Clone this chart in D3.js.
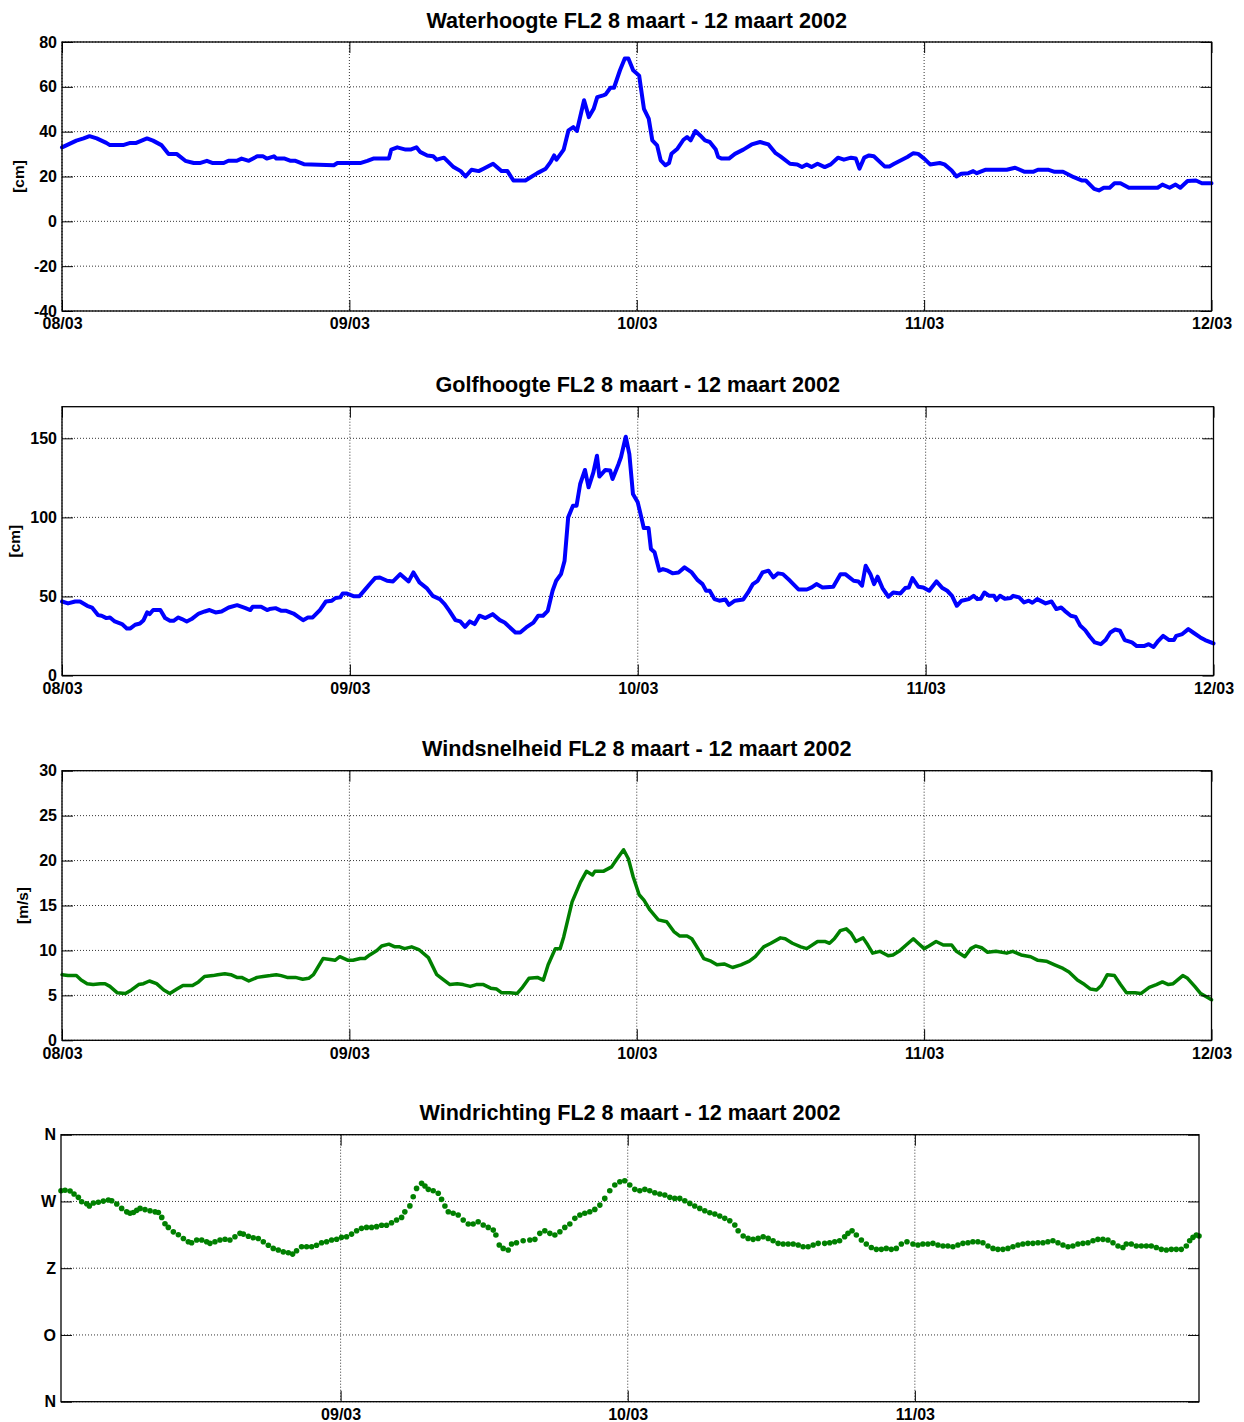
<!DOCTYPE html>
<html><head><meta charset="utf-8">
<script src="https://cdn.jsdelivr.net/npm/d3@7"></script>
<style>body{margin:0;background:#fff}</style>
</head><body><svg id="c" width="1244" height="1422"></svg>
<script>
// [hours since 08/03 00:00, value]
const waterhoogte = [[0,33],[0.4,34],[1.2,36],[1.8,37],[2.3,38],[2.9,37],[3.7,35],[4,34],[5.1,34],[5.7,35],[6.2,35],[7.1,37],[7.6,36],[8.3,34],[8.9,30],[9.6,30],[10.3,27],[11,26],[11.5,26],[12.1,27],[12.6,26],[13.5,26],[13.9,27],[14.6,27],[15,28],[15.6,27],[16.3,29],[16.8,29],[17.1,28],[17.7,29],[17.9,28],[18.6,28],[19.1,27],[19.5,27],[20.2,25.5],[22.7,25],[23,26],[24.9,26],[25.5,27],[26,28],[27.3,28],[27.5,32],[28,33],[28.7,32],[29.1,32],[29.6,33],
[29.9,31],[30.5,29.4],[31,29],[31.3,27.5],[31.9,28.4],[32.7,24.2],[33.3,22.4],[33.7,20],[34.2,23],[34.8,22.4],[35.2,23.5],[36,25.7],[36.7,22.4],[37.2,22.4],[37.7,18.2],[38.7,18.2],[39.7,21.5],[40.4,23.5],[40.8,26.4],[41.1,29.4],[41.3,27.5],[41.9,32],[42.3,40.6],[42.7,42],[43,40.3],[43.6,54],[44,46.5],[44.4,50.2],[44.7,55.4],[45.2,56.2],[45.4,56.6],[45.8,59.6],[46.1,59.6],[46.6,67.4],[47,72.6],[47.3,72.6],[47.7,67.4],[48.2,65],[48.6,50.2],[49,45.8],[49.3,36.1],[49.7,33.9],[50,27.2],[50.4,25],[50.7,26],[50.9,30.1],[51.4,32.4],[51.9,36.4],[52.2,37.6],[52.5,36.1],[52.9,40.3],[53.3,38.3],[53.7,36.1],[54.1,35.4],[54.6,32],[54.8,28.7],[55.1,28],[55.7,28],[56.2,30.1],[56.9,32],[57.6,34.3],[58.3,35.4],[59,34.3],[59.6,30.4],[60,29],[60.8,25.7],[61.4,25.4],[61.8,24.2],[62.2,25.4],[62.6,24.2],[63.1,25.7],[63.7,24.2],
[64.2,25.4],[64.8,28.4],[65.3,27.5],[65.9,28.4],[66.3,28],[66.6,23.5],[67,28.4],[67.4,29.4],[67.8,29],[68.7,24.5],[69.1,24.5],[69.5,25.7],[70.6,28.7],[71.1,30.4],[71.5,30.1],[72,28],[72.5,25.4],[72.9,25.7],[73.3,26],[73.7,25.4],[74.3,22.7],[74.7,20],[75.1,21.2],[75.7,21.5],[76.1,22.4],[76.4,21.5],[77.1,23],[78.9,23],[79.6,23.9],[80.4,22.1],[81.1,22.1],[81.5,23],[82.4,23],[82.9,22.1],[83.6,22.1],[84.5,19.7],[85.2,18.2],[85.5,18.2],[86.2,14.5],[86.6,13.8],[87,15],[87.5,15],[87.9,17],[88.4,17],[89.1,15],[91.5,15],[91.9,16.4],[92.5,15],[93,16.4],[93.4,15],[94,18],[94.7,18.2],[95.2,17],[96,17]];

const golfhoogte = [[0,46.8],[0.5,45.6],[1.1,46.8],[1.5,46.8],[2.1,44.1],[2.5,43],[3,38.2],[3.3,37.8],[3.7,36.3],[4,36.7],[4.4,34.2],[5,32.5],[5.4,29.8],[5.7,29.8],[6.1,32.1],[6.5,32.9],[6.8,35],[7.1,39.9],[7.3,38.8],[7.6,41.4],[8.2,41.4],[8.6,36.3],[9,34.6],[9.3,34.6],[9.7,36.7],[10,35.7],[10.4,34.2],[10.8,35.7],[11.4,39.2],[11.9,40.5],[12.3,41.4],[12.8,39.9],[13.3,40.5],[13.9,43],[14.6,44.5],[15.3,42.6],[15.7,41.4],[15.9,43.5],[16.6,43.5],[17.1,41.4],[17.3,42],[17.8,42.6],[18.3,40.9],[18.7,40.9],[19.3,39.2],[19.7,37.1],[20.1,35],[20.5,36.7],[20.9,36.7],[21.5,41.4],[22,46.8],[22.5,47.3],[22.8,49],[23.2,49.4],[23.4,51.9],[23.7,51.9],[24.3,50.2],[24.8,50.2],[25.3,54.6],[25.7,58.2],[26.1,61.6],[26.5,62],[27.1,59.9],[27.6,59.5],[28.2,64.1],[28.9,59.5],[29.3,65.2],[29.8,58.9],
[30.4,55.3],[30.9,50.4],[31.5,48.3],[31.9,45.2],[32.3,40.9],[32.8,35],[33.2,34.2],[33.6,30.8],[34,34.2],[34.4,32.5],[34.8,37.8],[35.3,36.3],[35.9,38.8],[36.5,35],[36.9,33.5],[37.8,27.2],[38.2,27.2],[38.7,30.4],[39.3,33.5],[39.7,37.8],[40.1,37.8],[40.5,40.9],[40.9,53.6],[41.2,59.9],[41.6,64.1],[41.9,72.6],[42.2,100],[42.6,107.4],[42.9,107.4],[43.2,121.1],[43.6,130],[43.9,119],[44.3,128.5],[44.6,139],[44.8,125.8],[45.3,130],[45.7,129.6],[45.9,124.3],[46.4,133.8],[46.6,138],[47,151],[47.3,140],[47.6,114.8],[48,109.5],[48.3,100],[48.5,93.3],[48.9,93.3],[49.1,80],[49.4,77.9],[49.8,66.3],[50.1,67.3],[50.5,66.3],[50.9,64.6],[51.4,65.2],[51.9,68.4],[52.5,65.2],[53,60.3],[53.4,57.8],[53.7,53.6],[54,53.6],[54.4,48.3],[54.8,47.3],[55.3,48.1],[55.6,44.7],[56.1,47.3],[56.8,48.1],[57.2,52.5],[57.6,57.8],[58,59.9],[58.4,65.2],[58.9,66.3],[59.3,62],[59.7,64.6],[60.1,64.1],[60.7,59.9],[61.4,54.4],[62.1,54.4],[62.5,55.7],[62.9,57.8],[63.4,55.7],
[64.3,56.1],[64.9,64.1],[65.3,64.1],[66,59.9],[66.4,59.5],[66.7,56.8],[67,69.4],[67.4,64.1],[67.7,57.8],[68,62.5],[68.4,55.3],[68.9,49.8],[69.3,52.5],[69.9,51.9],[70.3,55.3],[70.6,55.7],[70.9,61.6],[71.4,56.1],[71.8,55.7],[72.3,53.6],[72.9,59.5],[73.4,55.3],[73.8,53.6],[74.2,50.4],[74.6,44.1],[75,47.3],[75.6,48.3],[76,50.4],[76.3,48.3],[76.6,48.5],[76.9,52.5],[77.3,50.4],[77.7,50.4],[77.9,47.7],[78.2,50.4],[78.6,48.5],[79.1,49],[79.3,50.4],[79.8,49.4],[80.2,46.2],[80.6,47.3],[80.9,46],[81.3,48.3],[82,45.6],[82.5,46.8],[82.9,42],[83.3,43],[83.6,40.9],[84.1,37.8],[84.5,37.1],[84.9,31.4],[85.3,28.7],[85.7,24.5],[86.1,20.9],[86.6,19.8],[87,22.4],[87.4,27.2],[87.8,29.1],[88.2,28.3],[88.6,22.4],[89.2,20.9],[89.6,18.6],[90.2,18.6],[90.6,19.8],[91,18.1],[91.4,21.9],[91.8,25.1],[92.3,22.4],[92.7,22.4],[92.9,25.1],[93.4,26.2],[93.9,29.3],[94.3,27.2],[94.9,24.1],[95.3,22.4],[96,20.3]];

const windsnelheid = [[0,7.3],[0.5,7.2],[1.2,7.2],[1.6,6.7],[2.1,6.3],[2.6,6.2],[3.2,6.3],[3.6,6.3],[4,6],[4.6,5.3],[5.3,5.2],[5.8,5.6],[6.4,6.2],[6.8,6.3],[7.3,6.6],[7.9,6.3],[8.5,5.6],[9,5.2],[9.6,5.7],[10.1,6.1],[10.9,6.1],[11.4,6.5],[11.9,7.1],[12.6,7.2],[13,7.3],[13.6,7.4],[14.1,7.3],[14.6,7],[15,7],[15.6,6.6],[16.3,7],[16.8,7.1],[17.4,7.2],[17.9,7.3],[18.3,7.2],[18.8,7],[19.5,7],[20.1,6.8],[20.6,6.9],[21,7.3],[21.4,8.2],[21.8,9.1],[22.4,9],[22.8,8.9],[23.2,9.3],[23.9,8.9],[24.3,8.9],[24.9,9.1],[25.3,9.1],[25.7,9.5],[26.3,10],[26.7,10.5],[27.3,10.7],[27.8,10.4],[28.2,10.4],[28.6,10.2],[29.2,10.4],[29.8,10.1],
[30.6,9.2],[31.3,7.3],[31.9,6.7],[32.4,6.2],[33,6.3],[33.5,6.2],[34.1,6],[34.6,6.2],[35.2,6.2],[35.8,5.8],[36.3,5.7],[36.7,5.3],[37.4,5.3],[38,5.2],[38.4,5.8],[39,6.9],[39.7,7],[40.2,6.7],[40.6,8.4],[41.2,10.2],[41.6,10.2],[41.9,11.5],[42.6,15.4],[43.3,17.6],[43.8,18.8],[44.3,18.4],[44.5,18.8],[45.2,18.8],[45.9,19.3],[46.3,20.1],[46.9,21.2],[47.3,20.2],[47.7,18.2],[48.2,16.2],[48.6,15.6],[49.1,14.5],[49.8,13.4],[50.5,13.2],[51.1,12.1],[51.6,11.6],[52.2,11.6],[52.6,11.3],[53.2,10],[53.6,9.1],[54.2,8.8],[54.7,8.4],[55.3,8.5],[56,8.1],[56.7,8.4],[57.4,8.8],[57.9,9.3],[58.6,10.4],[59.2,10.8],[60,11.4],[60.4,11.3],[61,10.8],[61.7,10.4],[62.2,10.2],[63.1,11],[63.7,11],
[64.1,10.8],[64.5,11.3],[65,12.2],[65.5,12.4],[65.9,11.9],[66.3,11],[66.9,11.4],[67.3,10.6],[67.7,9.7],[68.3,9.9],[69,9.4],[69.4,9.5],[69.9,9.9],[70.5,10.6],[71.1,11.3],[71.5,10.8],[72,10.2],[72.4,10.5],[73,11],[73.6,10.6],[74.3,10.6],[74.7,9.9],[75.4,9.3],[75.9,10.2],[76.3,10.5],[76.8,10.3],[77.3,9.8],[78,9.9],[78.9,9.7],[79.4,9.9],[80.1,9.5],[80.9,9.3],[81.5,8.9],[82.2,8.8],[82.9,8.4],[83.6,8],[84.1,7.6],[84.8,6.7],[85.4,6.2],[85.9,5.7],[86.4,5.6],[86.8,6.1],[87.3,7.3],[87.9,7.2],[88.4,6.2],[88.9,5.3],[89.6,5.3],[90.1,5.2],[90.8,5.9],[91.4,6.2],[91.9,6.5],[92.4,6.2],[92.8,6.3],[93.6,7.2],[94,6.9],[94.6,6],[95.1,5.2],[96,4.5]];

// degrees (0 = N, 90 = O, 180 = Z, 270 = W)
const windrichting = [[0.63,284.5],[0.97,285],[1.39,284],[1.72,280],[2.08,275.5],[2.36,269.6],[2.78,267],[3.0,264],[3.34,268],[3.75,269],[4.17,270.5],[4.59,272],[4.87,271],[5.29,266.5],[5.7,260.6],[6.12,256],[6.4,254],[6.68,255],[6.96,258],[7.24,260.6],[7.65,259],[8.07,257.5],[8.49,256],[8.77,255],[9.05,248.5],[9.32,240],[9.6,235],[10.02,229],[10.44,225],[10.86,220],[11.27,215.7],[11.55,214.4],[11.97,218],[12.39,218],[12.8,215.7],[13.08,213.5],[13.5,215.7],[13.92,218],[14.34,219],[14.75,218],[15.17,222.5],[15.59,227],[15.87,226],[16.29,223],[16.7,221],[17.12,220],[17.54,215.7],[17.96,211],[18.37,206.7],[18.79,204.5],[19.21,202],[19.63,200.9],[19.99,199],[20.32,203.6],[20.74,209],[21.16,209],[21.58,209],[21.99,211],[22.41,214.4],[22.83,215.7],[23.25,218],[23.67,219],[24.08,221.6],[24.5,222.5],[24.92,226],[25.34,230.5],[25.75,233.7],[26.17,235],[26.59,235],[27.01,236],[27.43,238],[27.84,238],[28.26,241.3],[28.68,245],[29.1,248.5],[29.37,256],
[29.79,264],[30.07,276.4],[30.35,287.6],[30.77,294.4],[31.05,290.8],[31.33,286.3],[31.74,284.5],[32.16,281],[32.44,272.8],[32.72,263.8],[33.0,256.2],[33.41,254],[33.83,251.7],[34.25,245],[34.67,239.5],[35.08,239.5],[35.5,242.7],[35.92,238.2],[36.34,235],[36.76,231.4],[36.98,224.7],[37.26,211.2],[37.59,206.7],[38.01,204.5],[38.29,212.6],[38.7,214.4],[39.26,217],[39.82,218],[40.24,218.9],[40.65,227],[41.07,230.5],[41.49,227],[41.91,224.7],[42.33,229.2],[42.74,235],[43.16,239.5],[43.58,247.2],[44.0,251.7],[44.41,254],[44.83,256.2],[45.25,259.3],[45.67,265.1],[46.08,274.1],[46.5,284.5],[46.92,292.1],[47.34,296.6],[47.75,298],[48.17,292.1],[48.59,286.3],[49.01,284.5],[49.43,286.3],[49.84,284.5],[50.26,281.8],[50.68,280],[51.1,278.6],[51.52,275.5],[51.93,274.1],[52.35,274.1],[52.77,271],[53.19,267.4],[53.6,263.8],[54.02,260.6],[54.44,257.5],[54.86,254.8],[55.28,253],[55.69,250.3],[56.11,247.2],[56.53,244],[56.95,238.2],[57.23,230.5],[57.65,223.4],[58.06,220.2],[58.48,218.9],[58.9,220.2],[59.32,222.5],[59.74,220.2],[60.15,217],[60.57,213.5],[60.99,212.6],[61.41,212.6],[61.83,212.6],[62.25,211.2],[62.66,209],[63.08,209],[63.5,211.2],[63.92,213.5],
[64.46,213.5],[64.88,214.4],[65.3,215.7],[65.71,217],[66.13,222.5],[66.41,227],[66.75,230.5],[67.11,224.7],[67.53,218],[67.94,212.6],[68.36,208],[68.78,205.4],[69.2,205.4],[69.61,206.7],[70.03,205.4],[70.45,206.7],[70.87,212.6],[71.34,215.7],[71.84,212.6],[72.26,211.2],[72.67,212.6],[73.09,212.6],[73.51,213.5],[73.93,211.2],[74.35,209.9],[74.76,209.9],[75.18,209],[75.6,211.2],[76.02,213.5],[76.44,214.4],[76.85,215.7],[77.27,215.7],[77.69,214.4],[78.11,209.9],[78.53,206.7],[78.94,205.4],[79.36,205.4],[79.78,206.7],[80.2,209],[80.62,211.2],[81.03,212.6],[81.45,213.5],[81.87,213.5],[82.29,214.4],[82.71,214.4],[83.12,215.7],[83.54,217],[83.96,214.4],[84.38,211.2],[84.8,209],[85.21,209.9],[85.63,212.6],[86.05,213.5],[86.47,214.4],[86.89,217],[87.3,218.9],[87.72,218.9],[88.14,218],[88.56,214.4],[88.98,209.9],[89.39,208],[89.67,212.6],[90.09,212.6],[90.51,209.9],[90.93,209.9],[91.35,209.9],[91.76,209.9],[92.18,208],[92.6,205.4],[93.02,204.5],[93.44,205.4],[93.85,205.4],[94.27,205.4],[94.69,209.9],[94.97,217],[95.25,221.6],[95.53,224.7],[95.75,223.4]];

const dayLabels = ["08/03","09/03","10/03","11/03","12/03"];
const waterTicks = [-40,-20,0,20,40,60,80];
const golfTicks = [0,50,100,150];
const windTicks = [0,5,10,15,20,25,30];
const dirTicks = [0,90,180,270,360];
const dirLabels = ["N","O","Z","W","N"];
const titles = ["Waterhoogte FL2 8 maart - 12 maart 2002","Golfhoogte FL2 8 maart - 12 maart 2002","Windsnelheid FL2 8 maart - 12 maart 2002","Windrichting FL2 8 maart - 12 maart 2002"];
const units = ["[cm]","[cm]","[m/s]",""];

const FONT = "'Liberation Sans', Arial, Helvetica, sans-serif";
const base = new Date(2002, 2, 8);
const toDate = h => new Date(base.getTime() + h * 3600000);
const dayDates = dayLabels.map(s => new Date(2002, +s.slice(3) - 1, +s.slice(0, 2)));
const fmtDay = d3.timeFormat("%d/%m");
const fmtNum = d => String(d);
const svg = d3.select("#c");

function drawPanel(p) {
  const x = d3.scaleTime().domain(p.xDomain).range([p.left, p.right]);
  const y = d3.scaleLinear().domain(p.yDomain).range([p.bottom, p.top]);
  const g = svg.append("g");
  const xt = dayDates.filter(d => d >= p.xDomain[0] && d <= p.xDomain[1]);

  // grid
  g.append("g").selectAll("line").data(p.yTicks).join("line")
    .attr("x1", p.left).attr("x2", p.right).attr("y1", d => y(d)).attr("y2", d => y(d))
    .attr("stroke", "#000").attr("stroke-width", 0.8).attr("stroke-dasharray", "1,2");
  g.append("g").selectAll("line").data(xt).join("line")
    .attr("x1", d => x(d)).attr("x2", d => x(d)).attr("y1", p.top).attr("y2", p.bottom)
    .attr("stroke", "#000").attr("stroke-width", 0.8).attr("stroke-dasharray", "1,2");

  // data
  if (p.mode === "line") {
    g.append("path").datum(p.data)
      .attr("d", d3.line().x(d => x(toDate(d[0]))).y(d => y(d[1])))
      .attr("fill", "none").attr("stroke", p.color).attr("stroke-width", p.width)
      .attr("stroke-linejoin", "round").attr("stroke-linecap", "round");
  } else {
    g.append("g").selectAll("circle").data(p.data).join("circle")
      .attr("cx", d => x(toDate(d[0]))).attr("cy", d => y(d[1])).attr("r", 2.8)
      .attr("fill", p.color);
  }

  // axes (MATLAB style inward ticks)
  const tl = 11;
  const styleAxis = sel => {
    sel.select(".domain").remove();
    sel.selectAll("line").attr("stroke", "#000").attr("stroke-width", 1);
    sel.selectAll("text").attr("font-family", FONT).attr("font-size", 16)
      .attr("font-weight", "bold").attr("fill", "#000");
  };
  g.append("g").attr("transform", `translate(${p.left},0)`)
    .call(d3.axisLeft(y).tickValues(p.yTicks).tickSize(-tl).tickPadding(5).tickFormat(p.yFormat))
    .call(styleAxis);
  g.append("g").attr("transform", `translate(${p.right},0)`)
    .call(d3.axisRight(y).tickValues(p.yTicks).tickSize(-tl).tickFormat(""))
    .call(styleAxis);
  g.append("g").attr("transform", `translate(0,${p.bottom})`)
    .call(d3.axisBottom(x).tickValues(xt).tickSize(-tl).tickPadding(7).tickFormat(fmtDay))
    .call(styleAxis);
  g.append("g").attr("transform", `translate(0,${p.top})`)
    .call(d3.axisTop(x).tickValues(xt).tickSize(-tl).tickFormat(""))
    .call(styleAxis);

  // box
  g.append("rect").attr("x", p.left).attr("y", p.top)
    .attr("width", p.right - p.left).attr("height", p.bottom - p.top)
    .attr("fill", "none").attr("stroke", "#000").attr("stroke-width", 1.3);

  // title
  g.append("text").attr("x", (p.left + p.right) / 2).attr("y", p.top - 14.5)
    .attr("text-anchor", "middle").attr("font-family", FONT).attr("font-size", 21.6)
    .attr("font-weight", "bold").attr("fill", "#000").text(p.title);

  // unit
  if (p.unit) {
    g.append("text").attr("transform", `translate(${p.unitX},${(p.top + p.bottom) / 2}) rotate(-90)`)
      .attr("text-anchor", "middle").attr("font-family", FONT).attr("font-size", 15.5)
      .attr("font-weight", "bold").attr("fill", "#000").text(p.unit);
  }
}

const fullDays = [toDate(0), toDate(96)];
drawPanel({title: titles[0], unit: units[0], unitX: 24, data: waterhoogte, mode: "line", color: "#0000ff", width: 4,
  xDomain: fullDays, yDomain: [-40, 80], yTicks: waterTicks, yFormat: fmtNum,
  left: 62, right: 1211.5, top: 42, bottom: 311});
drawPanel({title: titles[1], unit: units[1], unitX: 20, data: golfhoogte, mode: "line", color: "#0000ff", width: 4,
  xDomain: fullDays, yDomain: [0, 170], yTicks: golfTicks, yFormat: fmtNum,
  left: 62, right: 1213.5, top: 406.7, bottom: 675.5});
drawPanel({title: titles[2], unit: units[2], unitX: 28, data: windsnelheid, mode: "line", color: "#008000", width: 3.5,
  xDomain: fullDays, yDomain: [0, 30], yTicks: windTicks, yFormat: fmtNum,
  left: 62, right: 1211.5, top: 770.7, bottom: 1040.3});
drawPanel({title: titles[3], unit: units[3], data: windrichting, mode: "dots", color: "#008000",
  xDomain: d3.extent(windrichting, d => toDate(d[0])), yDomain: [0, 360], yTicks: dirTicks,
  yFormat: (d, i) => dirLabels[i],
  left: 61, right: 1199, top: 1134.7, bottom: 1401.7});
</script>
</body></html>
